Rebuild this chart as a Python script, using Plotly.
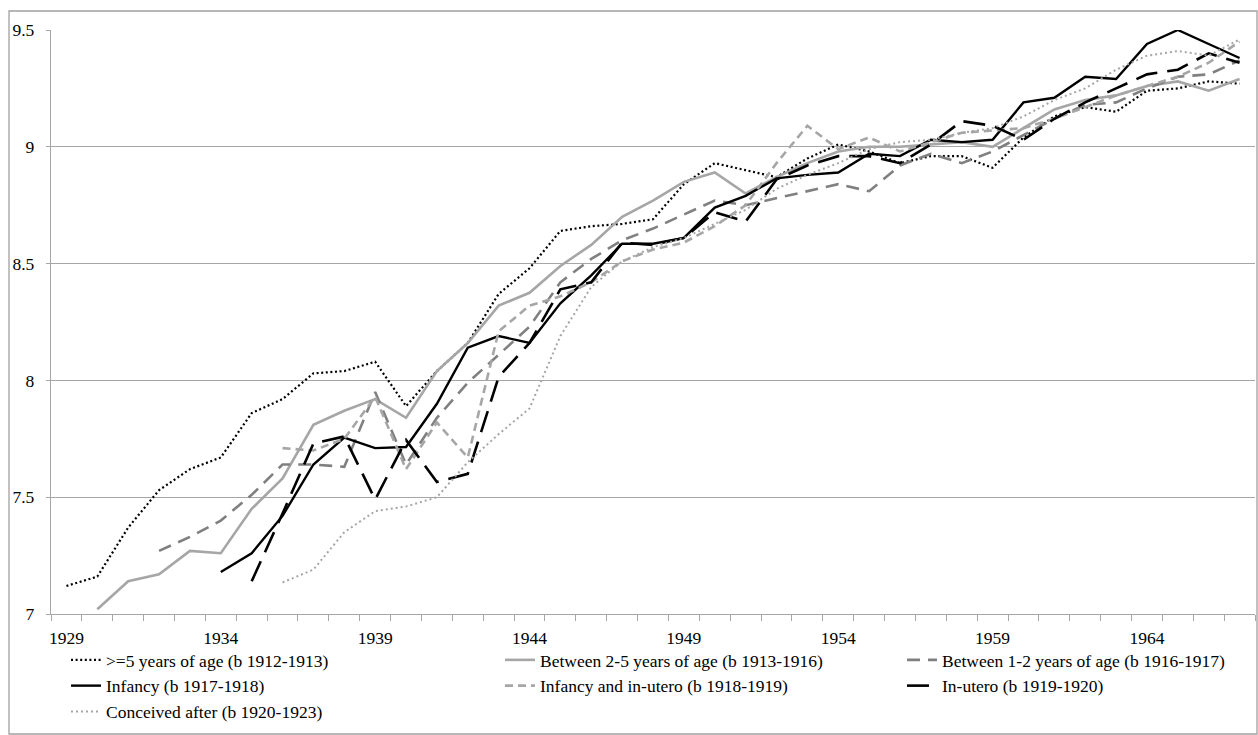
import plotly.graph_objects as go

# ---------------- data ----------------
years = list(range(1929, 1968))
tick_years = [1929, 1934, 1939, 1944, 1949, 1954, 1959, 1964]

names = [
    ">=5 years of age (b 1912-1913)",
    "Between 2-5 years of age (b 1913-1916)",
    "Between 1-2 years of age (b 1916-1917)",
    "Infancy (b 1917-1918)",
    "Infancy and in-utero (b 1918-1919)",
    "In-utero (b 1919-1920)",
    "Conceived after (b 1920-1923)",
]

ge5_start = 1929
ge5 = [7.12, 7.16, 7.37, 7.53, 7.62, 7.67, 7.86, 7.92, 8.03, 8.04, 8.08, 7.89, 8.04, 8.16,
       8.37, 8.48, 8.64, 8.66, 8.67, 8.69, 8.84, 8.93, 8.90, 8.87, 8.95, 9.01, 8.98, 8.93,
       8.96, 8.96, 8.91, 9.04, 9.13, 9.17, 9.15, 9.24, 9.25, 9.28, 9.27]

b25_start = 1930
b25 = [7.02, 7.14, 7.17, 7.27, 7.26, 7.45, 7.58, 7.81, 7.87, 7.92, 7.84, 8.04, 8.16, 8.32,
       8.375, 8.49, 8.58, 8.70, 8.77, 8.85, 8.89, 8.80, 8.87, 8.93, 8.98, 9.00, 9.00, 9.01,
       9.02, 9.00, 9.08, 9.16, 9.20, 9.22, 9.26, 9.28, 9.24, 9.29]

b12_start = 1932
b12 = [7.27, 7.33, 7.40, 7.51, 7.64, 7.64, 7.63, 7.95, 7.64, 7.84, 7.99, 8.11, 8.23, 8.42,
       8.52, 8.60, 8.65, 8.71, 8.77, 8.75, 8.78, 8.81, 8.84, 8.81, 8.92, 8.97, 8.93, 8.98,
       9.05, 9.12, 9.18, 9.19, 9.25, 9.30, 9.31, 9.37]

inf_start = 1934
inf = [7.18, 7.26, 7.42, 7.64, 7.755, 7.71, 7.715, 7.90, 8.14, 8.19, 8.16, 8.33, 8.45, 8.585,
       8.585, 8.61, 8.74, 8.79, 8.865, 8.88, 8.89, 8.97, 8.96, 9.03, 9.02, 9.03, 9.19, 9.21,
       9.30, 9.29, 9.44, 9.50, 9.44, 9.38]

infu_start = 1936
infu = [7.71, 7.70, 7.75, 7.93, 7.62, 7.82, 7.67, 8.21, 8.32, 8.36, 8.42, 8.51, 8.56, 8.59,
        8.66, 8.75, 8.93, 9.09, 8.99, 9.04, 8.98, 9.02, 9.06, 9.07, 9.08, 9.12, 9.17, 9.22,
        9.26, 9.30, 9.36, 9.45]

utero_start = 1935
utero = [7.14, 7.43, 7.73, 7.76, 7.49, 7.745, 7.565, 7.60, 8.015, 8.16, 8.39, 8.42, 8.59,
         8.58, 8.61, 8.72, 8.68, 8.86, 8.92, 8.96, 8.96, 8.93, 9.01, 9.11, 9.09, 9.03, 9.12,
         9.19, 9.25, 9.31, 9.33, 9.40, 9.36]

after_start = 1936
after = [7.135, 7.19, 7.35, 7.44, 7.46, 7.50, 7.65, 7.77, 7.88, 8.19, 8.40, 8.51, 8.57, 8.61,
         8.67, 8.73, 8.82, 8.88, 8.93, 8.99, 9.02, 9.03, 9.06, 9.08, 9.13, 9.20, 9.25, 9.33,
         9.39, 9.41, 9.39, 9.46]

series_data = [
    (ge5_start, ge5), (b25_start, b25), (b12_start, b12), (inf_start, inf),
    (infu_start, infu), (utero_start, utero), (after_start, after),
]

# ---------------- styles ----------------
styles = [
    dict(color="#000000", dash="2px,2.6px", width=2.2, legend="legend"),
    dict(color="#A6A6A6", dash="solid", width=2.6, legend="legend2"),
    dict(color="#808080", dash="13px,8px", width=2.6, legend="legend3"),
    dict(color="#000000", dash="solid", width=2.4, legend="legend"),
    dict(color="#A6A6A6", dash="8px,5px", width=2.6, legend="legend2"),
    dict(color="#000000", dash="22px,10px", width=2.6, legend="legend3"),
    dict(color="#A6A6A6", dash="2px,3px", width=2.0, legend="legend"),
]

FONT = "Liberation Serif, Times New Roman, DejaVu Serif, serif"
FS = 17.5

fig = go.Figure()
for name, (start, vals), st in zip(names, series_data, styles):
    xs = years[years.index(start):years.index(start) + len(vals)]
    fig.add_trace(go.Scatter(
        x=xs, y=vals, mode="lines", name=name,
        line=dict(color=st["color"], dash=st["dash"], width=st["width"]),
        legend=st["legend"],
    ))

W, H = 1258, 735
L, R, T, B = 51, 3, 30, 121
pw, ph = W - L - R, H - T - B


def px2paper_x(px):
    return (px - L) / pw


def py2paper_y(py):
    return (H - B - py) / ph


legend_common = dict(
    xanchor="left", yanchor="top", orientation="v",
    bgcolor="rgba(0,0,0,0)", borderwidth=0,
    font=dict(family=FONT, size=FS, color="#000000"),
    itemwidth=30, tracegroupgap=0,
)

fig.update_layout(
    width=W, height=H,
    margin=dict(l=L, r=R, t=T, b=B, pad=0),
    paper_bgcolor="white", plot_bgcolor="white",
    font=dict(family=FONT, size=FS, color="#000000"),
    showlegend=True,
    legend=dict(x=px2paper_x(66), y=py2paper_y(642), **legend_common),
    legend2=dict(x=px2paper_x(500), y=py2paper_y(642), **legend_common),
    legend3=dict(x=px2paper_x(902), y=py2paper_y(642), **legend_common),
    xaxis=dict(
        range=[1928.5, 1967.5], tickmode="array", tickvals=tick_years,
        ticktext=[str(t) for t in tick_years], ticks="",
        showgrid=False, zeroline=False,
        showline=True, linecolor="#A6A6A6", linewidth=1.3,
        tickfont=dict(family=FONT, size=FS, color="#000000"),
        minor=dict(ticks="outside", tick0=1928.5, dtick=1, ticklen=6,
                   tickcolor="#A6A6A6", tickwidth=1.3, showgrid=False),
        ticklabelstandoff=8,
    ),
    yaxis=dict(
        range=[7, 9.5], tickmode="array", tickvals=[7, 7.5, 8, 8.5, 9, 9.5],
        ticktext=["7", "7.5", "8", "8.5", "9", "9.5"],
        ticks="outside", ticklen=4, tickcolor="#A6A6A6", tickwidth=1.3,
        showgrid=True, gridcolor="#A6A6A6", gridwidth=1.3,
        zeroline=False, showline=True, linecolor="#A6A6A6", linewidth=1.3,
        tickfont=dict(family=FONT, size=FS, color="#000000"),
        ticklabelstandoff=8,
    ),
    shapes=[dict(
        type="rect", xref="paper", yref="paper",
        x0=px2paper_x(9), x1=px2paper_x(1257),
        y0=py2paper_y(734), y1=py2paper_y(11),
        line=dict(color="#A0A0A0", width=1.3), fillcolor="rgba(0,0,0,0)",
        layer="below",
    )],
)

fig.write_html("out.html")
